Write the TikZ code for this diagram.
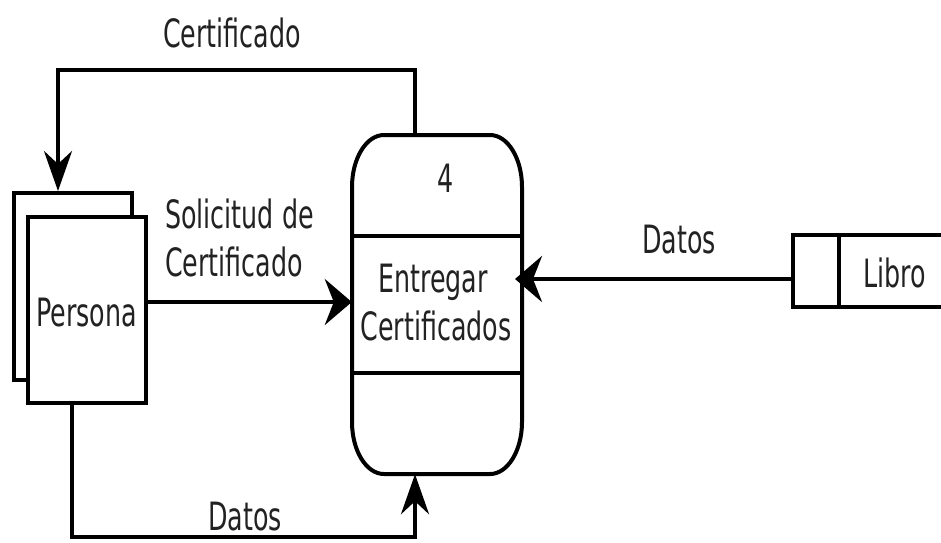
\documentclass[tikz,border=0pt]{standalone}
\usepackage{fontspec}
\setmainfont{DejaVu Sans}[FakeStretch=0.65]
\usetikzlibrary{arrows.meta}
\definecolor{txt}{HTML}{222222}
\tikzset{
  line/.style={line width=4pt, draw=black},
  hflow/.style={line, -{Stealth[length=27pt,width=46pt,inset=9pt]}},
  vflow/.style={line, -{Stealth[length=40pt,width=28pt,inset=13pt]}},
  lbl/.style={font=\fontsize{39}{48}\selectfont, text=txt, inner sep=0pt},
  box/.style={line, rectangle, inner sep=0pt, fill=white},
  ghost/.style={rectangle, inner sep=0pt, draw=none}
}
\begin{document}
\begin{tikzpicture}[x=1pt,y=-1pt]
\useasboundingbox (0,0) rectangle (941,542);
% Persona (two stacked rectangles)
\node[box, minimum width=118pt, minimum height=187pt] (persB) at (73,286.5) {};
\node[box, minimum width=118pt, minimum height=186pt] (persF) at (87,310) {};
\node[lbl, anchor=base] (persT) at (86.5,326) {Persona};
% Process 4
\node[ghost, minimum width=170pt, minimum height=339pt] (proc) at (437,304.5) {};
\draw[line] (352,187) arc[start angle=180,end angle=90,x radius=32pt,y radius=52pt]
  -- (490,135) arc[start angle=90,end angle=0,x radius=32pt,y radius=52pt]
  -- (522,422) arc[start angle=0,end angle=-90,x radius=32pt,y radius=52pt]
  -- (384,474) arc[start angle=270,end angle=180,x radius=32pt,y radius=52pt]
  -- cycle;
\draw[line] (352,236) -- (522,236);
\draw[line] (352,373) -- (522,373);
\node[lbl, anchor=base] (pnum) at (446,192) {4};
\node[lbl, anchor=base] (pn1) at (433,292) {Entregar};
\node[lbl, anchor=base] (pn2) at (436,340) {Certificados};
% Libro data store
\node[ghost, minimum width=148pt, minimum height=72pt] (libro) at (867,271) {};
\draw[line] (libro.north east) -- (libro.north west) -- (libro.south west) -- (libro.south east);
\draw[line] (839,235) -- (839,307);
\node[lbl, anchor=base] (libT) at (895,287) {Libro};
% helper coordinates
\coordinate (r1) at (0,302);
\coordinate (r2) at (0,279);
\coordinate (topR) at (415,70);
\coordinate (topL) at (58,70);
\coordinate (botL) at (72,537);
\coordinate (botR) at (415,537);
\coordinate (tipR) at (515,279);
% connectors
\draw[hflow] (persF.east |- r1) -- (proc.west |- r1);
\draw[hflow] (libro.west |- r2) -- (tipR);
\draw[vflow] (topR |- proc.north) -- (topR) -- (topL) -- (topL |- persB.north);
\draw[vflow] (botL |- persF.south) -- (botL) -- (botR) -- (botR |- proc.south);
% labels
\node[lbl, anchor=base] (l1) at (232,47) {Certificado};
\node[lbl, anchor=base west, align=left] (l2) at (165,276) {Solicitud de\\Certificado};
\node[lbl, anchor=base] (l3) at (679,253) {Datos};
\node[lbl, anchor=base] (l4) at (245,530) {Datos};
\end{tikzpicture}
\end{document}
